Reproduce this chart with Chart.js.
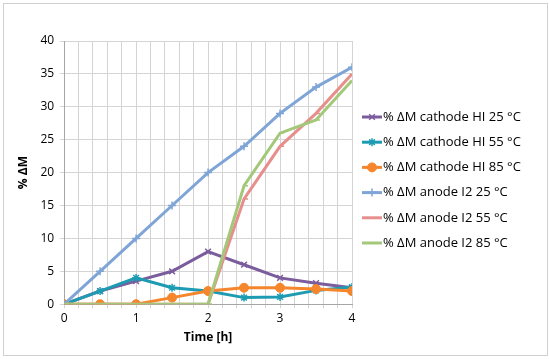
<!DOCTYPE html>
<html>
<head>
<meta charset="utf-8">
<script src="https://cdn.jsdelivr.net/npm/chart.js@4"></script>
<style>
  body { margin: 0; background: #fff; }
  #wrap {
    position: absolute; left: 3px; top: 3px;
    width: 543px; height: 351px;
    border: 1px solid #d0d0d0; background: #fff;
  }
  canvas { display: block; }
</style>
</head>
<body>
<div id="wrap"><canvas id="chart" width="543" height="351"></canvas></div>
<script>
/* time axis (h) and measured mass change (%) */
const times = [0, 0.5, 1, 1.5, 2, 2.5, 3, 3.5, 4];

const cathodeHI25 = [0, 2, 3.5, 5, 8, 6, 4, 3.2, 2.5];
const cathodeHI55 = [0, 2, 4, 2.5, 2, 1, 1.1, 2.1, 2.6];
const cathodeHI85 = [0, 0, 0, 1, 2, 2.5, 2.5, 2.3, 2];
const anodeI225 = [0, 5, 10, 15, 20, 24, 29, 33, 36];
const anodeI255 = [0, 0, 0, 0, 0, 16, 24, 29, 35];
const anodeI285 = [0, 0, 0, 0, 0, 18, 26, 28, 34];

const seriesLabels = [
  "% ΔM cathode HI 25 °C",
  "% ΔM cathode HI 55 °C",
  "% ΔM cathode HI 85 °C",
  "% ΔM anode I2 25 °C",
  "% ΔM anode I2 55 °C",
  "% ΔM anode I2 85 °C"
];
const seriesValues = [cathodeHI25, cathodeHI55, cathodeHI85, anodeI225, anodeI255, anodeI285];
const seriesColors = ["#7b5c9c", "#1d9bb2", "#f5862c", "#7fa4d6", "#e68f8c", "#a4c87a"];
const seriesMarkers = ["crossRot", "star", "circle", "cross", "dash", "dash"];

const yTicks = { min: 0, max: 40, step: 5 };
const xTicks = { min: 0, max: 4, step: 0.2 };

const FONT = "'Open Sans', sans-serif";
const GRID = "#d4d4d4";

function toPoints(vals) {
  return vals.map((v, i) => ({ x: times[i], y: v }));
}

/* Excel-style legend: short line with the series marker, to the right of the plot */
const sideLegend = {
  id: "sideLegend",
  afterDraw(chart) {
    const ctx = chart.ctx;
    const x0 = chart.chartArea.right + 10;
    const lineLen = 20;
    const step = 25.2;
    const n = chart.data.datasets.length;
    const yMid = 176;
    ctx.save();
    ctx.font = "13px " + FONT;
    ctx.textBaseline = "middle";
    chart.data.datasets.forEach((ds, i) => {
      const y = yMid + (i - (n - 1) / 2) * step;
      ctx.strokeStyle = ds.borderColor;
      ctx.fillStyle = ds.borderColor;
      ctx.lineWidth = 3;
      ctx.beginPath();
      ctx.moveTo(x0, y);
      ctx.lineTo(x0 + lineLen, y);
      ctx.stroke();
      if (ds.pointStyle !== "dash") {
        ctx.lineWidth = ds.pointBorderWidth;
        Chart.helpers.drawPoint(ctx, {
          pointStyle: ds.pointStyle,
          radius: ds.pointRadius,
          borderWidth: ds.pointBorderWidth,
          rotation: 0
        }, x0 + lineLen / 2, y);
      }
      ctx.fillStyle = "#000";
      ctx.fillText(ds.label, x0 + lineLen + 1, y);
    });
    ctx.restore();
  }
};

function buildChart() {
  const datasets = seriesValues.map((vals, i) => ({
    label: seriesLabels[i],
    data: toPoints(vals),
    borderColor: seriesColors[i],
    backgroundColor: seriesColors[i],
    borderWidth: 3,
    pointStyle: seriesMarkers[i],
    pointRadius: seriesMarkers[i] === "circle" ? 4.5 : 4,
    pointBorderWidth: seriesMarkers[i] === "circle" ? 1 : 1.5,
    pointBorderColor: seriesColors[i],
    pointBackgroundColor: seriesColors[i],
    tension: 0,
    order: seriesValues.length - i
  }));

  new Chart(document.getElementById("chart"), {
    type: "line",
    data: { datasets },
    plugins: [sideLegend],
    options: {
      responsive: false,
      animation: false,
      layout: { padding: { left: 12, top: 37, right: 195, bottom: 10 } },
      plugins: {
        tooltip: { enabled: false },
        legend: { display: false }
      },
      scales: {
        x: {
          type: "linear",
          min: xTicks.min,
          max: xTicks.max,
          ticks: {
            stepSize: xTicks.step,
            maxTicksLimit: 30,
            autoSkip: false,
            maxRotation: 0,
            color: "#000",
            font: { family: FONT, size: 12 },
            callback: (v) => (Math.abs(v - Math.round(v)) < 1e-6 ? String(Math.round(v)) : "")
          },
          grid: { color: GRID, tickLength: 4 },
          border: { color: "#a6a6a6" },
          title: {
            display: true,
            text: "Time [h]",
            color: "#000",
            font: { family: FONT, size: 12, weight: "bold" },
            padding: { top: 2, bottom: 0 }
          }
        },
        y: {
          min: yTicks.min,
          max: yTicks.max,
          ticks: {
            stepSize: yTicks.step,
            color: "#000",
            font: { family: FONT, size: 12 },
            padding: 6
          },
          grid: { color: GRID, tickLength: 4 },
          border: { color: "#a6a6a6" },
          title: {
            display: true,
            text: "% ΔM",
            color: "#000",
            font: { family: FONT, size: 12, weight: "bold" },
            padding: { top: 0, bottom: 4 }
          }
        }
      }
    }
  });
}

Promise.all([
  document.fonts.load("12px 'Open Sans'"),
  document.fonts.load("13px 'Open Sans'"),
  document.fonts.load("bold 12px 'Open Sans'")
]).then(buildChart, buildChart);
</script>
</body>
</html>
